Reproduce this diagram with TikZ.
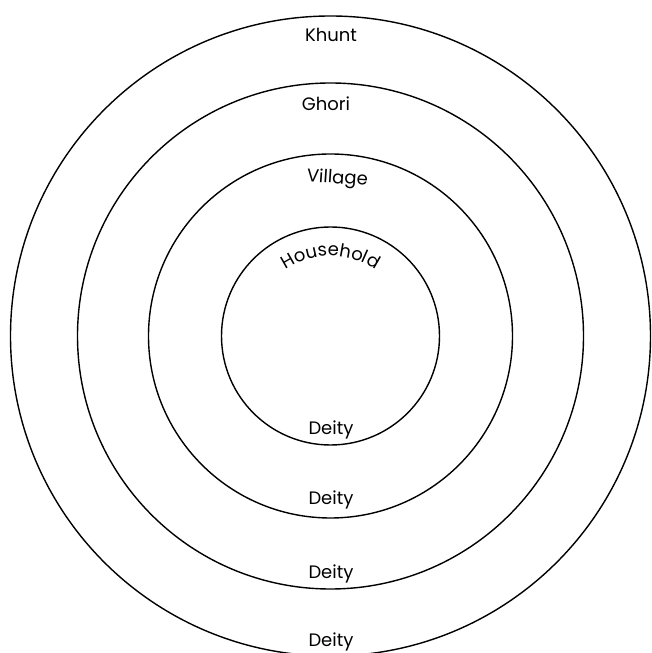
\documentclass[tikz,border=0pt]{standalone}
\usepackage{fontspec}
\setmainfont{Poppins}
\usetikzlibrary{decorations.text}
\begin{document}
\begin{tikzpicture}[x=1pt,y=1pt,
  ring/.style={draw=black, line width=1.4pt, circle, inner sep=0pt},
  lbl/.style={font=\fontsize{18}{20}\selectfont, anchor=base, inner sep=0pt}]
\useasboundingbox (0,0) rectangle (651,653);
\coordinate (O) at (330.5,317);
\node[ring, minimum size=218pt] (household) at (O) {};
\node[ring, minimum size=364pt] (village) at (O) {};
\node[ring, minimum size=506pt] (ghori) at (O) {};
\node[ring, minimum size=640pt] (khunt) at (O) {};
\node[lbl] (tkhunt) at (331,611.5) {Khunt};
\node[lbl] (tghori) at (326,542.5) {Ghori};
\node[lbl, rotate=-4] (tvillage) at (337,469.5) {Village};
\path[decorate, decoration={text along path,
  text={|\fontsize{18}{20}\selectfont|Household}, text align=center}]
  (O) ++(150:80) arc[start angle=150, end angle=30, radius=80];
\node[lbl] (d1) at (331,218.5) {Deity};
\node[lbl] (d2) at (331,148.5) {Deity};
\node[lbl] (d3) at (331,74.5) {Deity};
\node[lbl] (d4) at (331,6.5) {Deity};
\end{tikzpicture}
\end{document}
